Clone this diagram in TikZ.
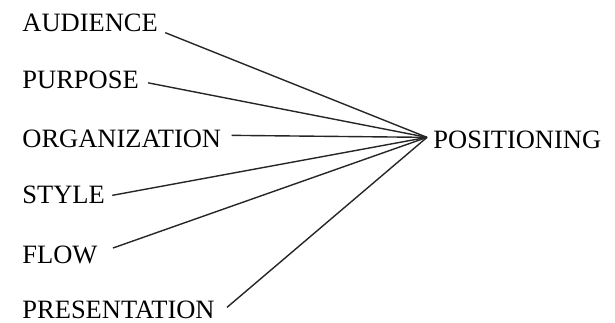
\documentclass[tikz,border=0pt]{standalone}
\usepackage{fontspec}
\setmainfont{Liberation Serif}
\usetikzlibrary{positioning}

\begin{document}
\begin{tikzpicture}[
    x=1pt,
    y=-1pt,
    thick
]

    \tikzset{
        item/.style={inner sep=0pt, anchor=base west, font=\fontsize{26.5}{30}\selectfont},
        link/.style={line width=1.4pt, black!85}
    }

    \useasboundingbox (0,0) rectangle (615,323);

    % Termes
    \node[item] (aud) at (22,32) {AUDIENCE};
    \node[item] (pur) at (22,89) {PURPOSE};
    \node[item] (org) at (22,148) {ORGANIZATION};
    \node[item] (sty) at (22,204) {STYLE};
    \node[item] (flo) at (22,263) {FLOW};
    \node[item] (pre) at (22,318) {PRESENTATION};

    % Posicionament
    \node[item, inner xsep=6pt] (pos) at (427,149) {POSITIONING};
    \coordinate (hub) at ([yshift=3pt]pos.west);

    % Linies
    \draw[link] ([xshift=7pt]aud.south east) -- (hub);
    \draw[link] ([xshift=9pt,yshift=-2.5pt]pur.east) -- (hub);
    \draw[link] ([xshift=10pt,yshift=4pt]org.east) -- (hub);
    \draw[link] ([xshift=7pt]sty.east) -- (hub);
    \draw[link] ([xshift=15pt,yshift=-3pt]flo.north east) -- (hub);
    \draw[link] ([xshift=12pt,yshift=2pt]pre.east) -- (hub);

\end{tikzpicture}
\end{document}
